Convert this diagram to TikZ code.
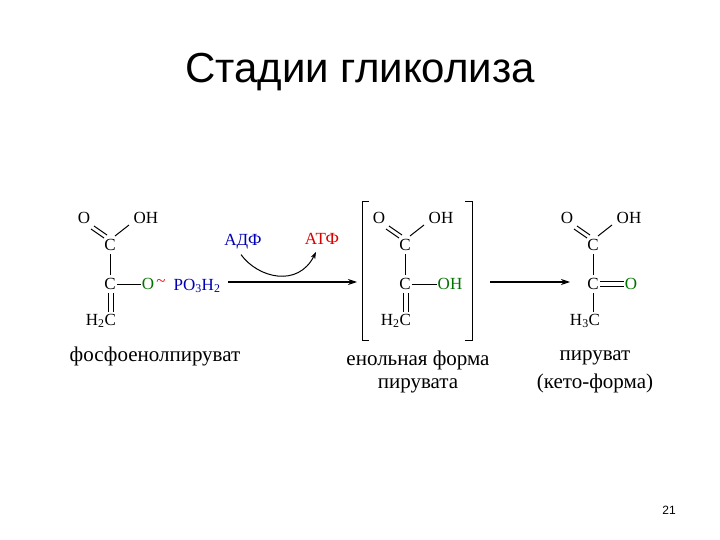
\documentclass[tikz,border=0pt]{standalone}
\usepackage{fontspec}
\usetikzlibrary{arrows.meta}
\setmainfont{Liberation Serif}
\newfontfamily\sans{Liberation Sans}
\begin{document}
\begin{tikzpicture}[x=1pt,y=-1pt,
 atom/.style={font=\fontsize{17}{18}\selectfont, inner sep=1pt},
 lab/.style={font=\fontsize{21}{24}\selectfont, inner sep=0pt},
 bd/.style={line width=1pt},
 arr/.style={line width=1.1pt,-{Stealth[length=9pt,width=6pt]}},
 gr/.style={text=green!45!black}]
\useasboundingbox (0,0) rectangle (720,540);
\fill[white] (0,0) rectangle (720,540);
\node[font=\sans\fontsize{42}{48}\selectfont] (title) at (360,72) {Стадии гликолиза};
\node[font=\sans\fontsize{12}{14}\selectfont] (pg) at (669,510) {21};
% molecule 1
\node[atom] (o1) at (84,218) {O};
\node[atom] (oh1) at (146,218) {OH};
\node[atom] (c1a) at (110,245) {C};
\node[atom] (c1b) at (110,284) {C};
\node[atom] (h1) at (101,321) {H\textsubscript{2}C};
\node[atom,gr] (og1) at (148,284) {O};
\node[atom,text=red] (t1) at (161,283) {\textasciitilde};
\node[atom,text=blue!70!black] (p1) at (197,286) {PO\textsubscript{3}H\textsubscript{2}};
\draw[bd] ([shift={(-19,-16)}]c1a.center) -- ([shift={(-6,-7)}]c1a.center);
\draw[bd] ([shift={(-16,-19)}]c1a.center) -- ([shift={(-3,-10)}]c1a.center);
\draw[bd] ([shift={(5,-9)}]c1a.center) -- ([shift={(19,-20)}]c1a.center);
\draw[bd] ([shift={(0,9)}]c1a.center) -- ([shift={(0,-9)}]c1b.center);
\draw[bd] ([shift={(-2,9)}]c1b.center) -- ([shift={(-2,28)}]c1b.center);
\draw[bd] ([shift={(3,9)}]c1b.center) -- ([shift={(3,28)}]c1b.center);
\draw[bd] ([shift={(7,0)}]c1b.center) -- (og1.west);
\node[lab] (n1) at (155,356) {фосфоенолпируват};
% arrow 1
\coordinate (a1s) at (228,282);
\coordinate (a1e) at (357,282);
\draw[arr] (a1s) -- (a1e);
\node[atom,text=blue!70!black] (adp) at (243,242) {АДФ};
\node[atom,text=red!85!black] (atp) at (322,239) {АТФ};
\draw[bd,-{Stealth[length=7pt,width=5pt]}] ([shift={(-2,4)}]adp.south) .. controls (258,278) and (298,288) .. (316,252);
% bracket
\draw[bd] (369,202) -- (362,202) -- (362,340) -- (369,340);
\draw[bd] (465,202) -- (472,202) -- (472,340) -- (465,340);
% molecule 2
\node[atom] (o2) at (379,218) {O};
\node[atom] (oh2) at (441,218) {OH};
\node[atom] (c2a) at (405,245) {C};
\node[atom] (c2b) at (405,284) {C};
\node[atom] (h2) at (396,321) {H\textsubscript{2}C};
\node[atom,gr] (og2) at (450,284) {OH};
\draw[bd] ([shift={(-19,-16)}]c2a.center) -- ([shift={(-6,-7)}]c2a.center);
\draw[bd] ([shift={(-16,-19)}]c2a.center) -- ([shift={(-3,-10)}]c2a.center);
\draw[bd] ([shift={(5,-9)}]c2a.center) -- ([shift={(19,-20)}]c2a.center);
\draw[bd] ([shift={(0,9)}]c2a.center) -- ([shift={(0,-9)}]c2b.center);
\draw[bd] ([shift={(-2,9)}]c2b.center) -- ([shift={(-2,28)}]c2b.center);
\draw[bd] ([shift={(3,9)}]c2b.center) -- ([shift={(3,28)}]c2b.center);
\draw[bd] ([shift={(7,0)}]c2b.center) -- (og2.west);
\node[lab] (n2) at (418,360) {енольная форма};
\node[lab] (n2b) at (418,386) {пирувата};
% arrow 2
\coordinate (a2s) at (490,282);
\coordinate (a2e) at (570,282);
\draw[arr] (a2s) -- (a2e);
% molecule 3
\node[atom] (o3) at (567,218) {O};
\node[atom] (oh3) at (629,218) {OH};
\node[atom] (c3a) at (593,245) {C};
\node[atom] (c3b) at (593,284) {C};
\node[atom] (h3) at (585,321) {H\textsubscript{3}C};
\node[atom,gr] (og3) at (631,284) {O};
\draw[bd] ([shift={(-19,-16)}]c3a.center) -- ([shift={(-6,-7)}]c3a.center);
\draw[bd] ([shift={(-16,-19)}]c3a.center) -- ([shift={(-3,-10)}]c3a.center);
\draw[bd] ([shift={(5,-9)}]c3a.center) -- ([shift={(19,-20)}]c3a.center);
\draw[bd] ([shift={(0,9)}]c3a.center) -- ([shift={(0,-9)}]c3b.center);
\draw[bd] ([shift={(0,9)}]c3b.center) -- ([shift={(0,28)}]c3b.center);
\draw[bd] ([shift={(7,-2.5)}]c3b.center) -- ([shift={(0,-2.5)}]og3.west);
\draw[bd] ([shift={(7,2.5)}]c3b.center) -- ([shift={(0,2.5)}]og3.west);
\node[lab] (n3) at (595,358) {пируват};
\node[lab] (n3b) at (595,383) {(кето-форма)};
\end{tikzpicture}
\end{document}
